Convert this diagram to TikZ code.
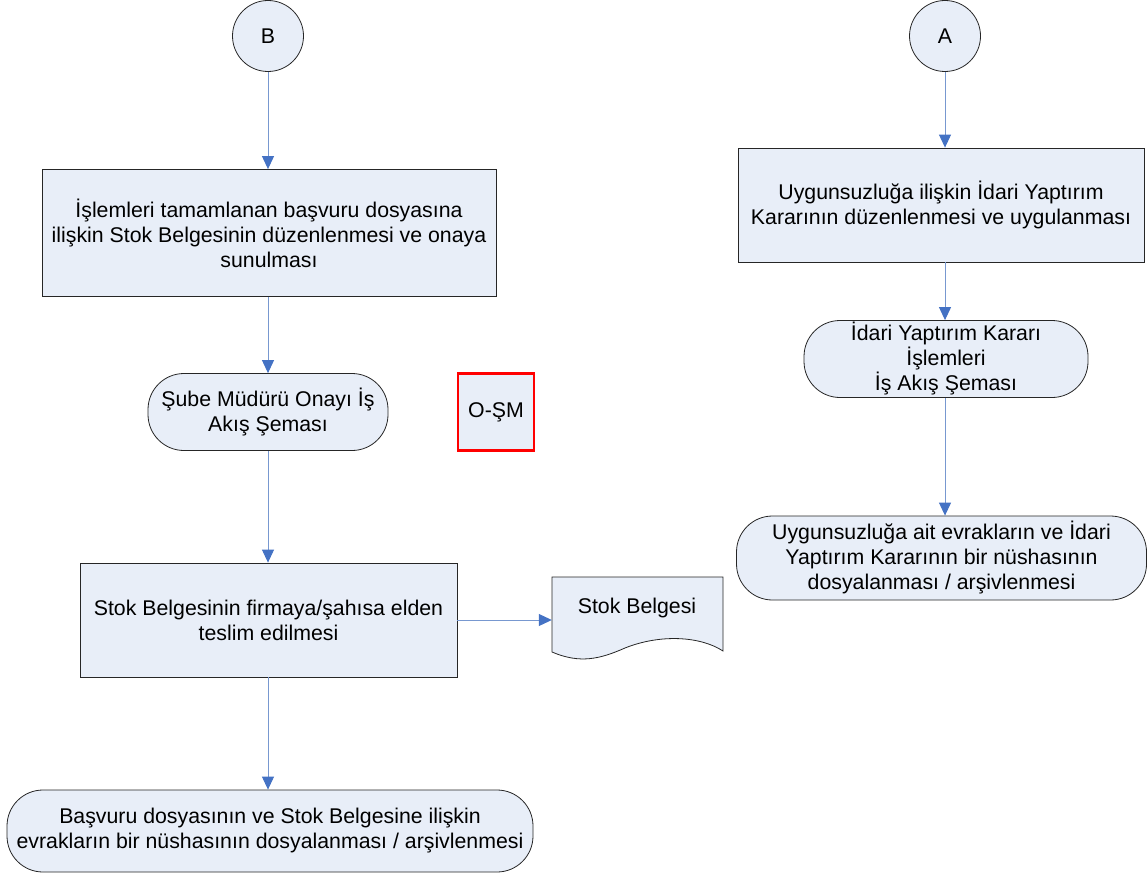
\documentclass[tikz,border=0pt]{standalone}
\usepackage{fontspec}
\setmainfont{Liberation Sans}
\usetikzlibrary{arrows.meta}
\definecolor{boxfill}{RGB}{232,238,248}
\definecolor{flowline}{RGB}{120,152,208}
\definecolor{flowhead}{RGB}{68,114,196}
\begin{document}
\begin{tikzpicture}[x=1pt,y=-1pt,
  font=\fontsize{21.3}{25}\selectfont,
  process/.style={draw=black!85,fill=boxfill,line width=0.8pt,align=center,inner sep=0pt},
  terminal/.style={process,rounded corners=36pt},
  connector/.style={draw=black!85,fill=boxfill,line width=0.8pt,circle,inner sep=0pt,minimum size=71pt},
  flow/.style={flowline,line width=1pt,-{Triangle[length=13pt,width=12pt,color=flowhead]}}]
\useasboundingbox (0,0) rectangle (1147,877);
\node[connector] (B) at (268,36) {B};
\node[process,minimum width=454pt,minimum height=127pt] (islem) at (269,233)
  {İşlemleri tamamlanan başvuru dosyasına\\ilişkin Stok Belgesinin düzenlenmesi ve onaya\\sunulması};
\node[terminal,minimum width=240pt,minimum height=77pt] (onay) at (268,412)
  {Şube Müdürü Onayı İş\\Akış Şeması};
\node[process,draw=red,line width=2.5pt,minimum width=76pt,minimum height=77pt] (osm) at (496,412) {O-ŞM};
\node[process,minimum width=377pt,minimum height=114pt] (teslim) at (268.5,620)
  {Stok Belgesinin firmaya/şahısa elden\\teslim edilmesi};
\draw[black!85,fill=boxfill,line width=0.8pt] (552,577) -- (723,577) -- (723,651)
  .. controls (700,636) and (660,634) .. (625,648)
  .. controls (600,659) and (580,664) .. (552,652) -- cycle;
\node[minimum width=171pt,minimum height=74pt,inner sep=0pt] (belge) at (637.5,614) {};
\node (belgetxt) at (637,608) {Stok Belgesi};
\node[terminal,minimum width=526pt,minimum height=82pt] (arsiv) at (270,831)
  {Başvuru dosyasının ve Stok Belgesine ilişkin\\evrakların bir nüshasının dosyalanması / arşivlenmesi};
\node[connector] (A) at (945,36) {A};
\node[process,minimum width=406pt,minimum height=114pt] (yaptirim) at (941,205)
  {Uygunsuzluğa ilişkin İdari Yaptırım\\Kararının düzenlenmesi ve uygulanması};
\node[terminal,minimum width=284pt,minimum height=77pt] (karar) at (946,359)
  {İdari Yaptırım Kararı\\İşlemleri\\İş Akış Şeması};
\node[terminal,minimum width=410pt,minimum height=84pt] (dosya) at (941.5,558)
  {Uygunsuzluğa ait evrakların ve İdari\\Yaptırım Kararının bir nüshasının\\dosyalanması / arşivlenmesi};
\draw[flow] (B) -- (B |- islem.north);
\draw[flow] (B |- islem.south) -- (B |- onay.north);
\draw[flow] (B |- onay.south) -- (B |- teslim.north);
\draw[flow] (B |- teslim.south) -- (B |- arsiv.north);
\draw[flow] (teslim.east) -- (teslim.east -| belge.west);
\draw[flow] (A) -- (A |- yaptirim.north);
\draw[flow] (A |- yaptirim.south) -- (A |- karar.north);
\draw[flow] (A |- karar.south) -- (A |- dosya.north);
\end{tikzpicture}
\end{document}
